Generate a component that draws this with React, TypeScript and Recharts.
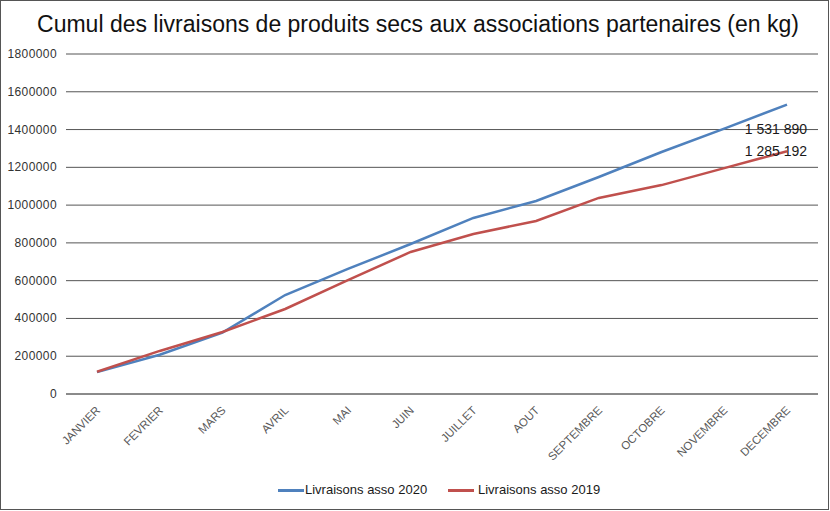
import React from 'react';
import { LineChart, Line, XAxis, YAxis, CartesianGrid, Legend, LabelList } from 'recharts';

const months = ['JANVIER', 'FEVRIER', 'MARS', 'AVRIL', 'MAI', 'JUIN', 'JUILLET', 'AOUT', 'SEPTEMBRE', 'OCTOBRE', 'NOVEMBRE', 'DECEMBRE'];
const asso2020 = [116000, 208000, 325000, 524000, 662000, 794000, 932000, 1022000, 1149000, 1281000, 1405000, 1531890];
const asso2019 = [118000, 228000, 328000, 450000, 603000, 752000, 847000, 916000, 1038000, 1106000, 1196000, 1285192];
const yTicks = [0, 200000, 400000, 600000, 800000, 1000000, 1200000, 1400000, 1600000, 1800000];
const seriesNames = ['Livraisons asso 2020', 'Livraisons asso 2019'];
const colors = ['#4F81BD', '#C0504D'];

const data = months.map((m, i) => ({ month: m, a2020: asso2020[i], a2019: asso2019[i] }));

const fmt = (v: number) => String(Math.round(v)).replace(/\B(?=(\d{3})+(?!\d))/g, ' ');

const YTick = (props: any) => {
  const { y, payload } = props;
  return (
    <text x={57} y={y} dy={4} textAnchor="end" fontSize={12} letterSpacing={0.4} fill="#333" fontFamily="Liberation Sans, Arial, sans-serif">
      {payload.value}
    </text>
  );
};

const XTick = (props: any) => {
  const { x, y, payload } = props;
  return (
    <text x={x + 4} y={y + 9} textAnchor="end" fontSize={11.5} fill="#595959" fontFamily="Liberation Sans, Arial, sans-serif" transform={`rotate(-45 ${x + 4} ${y + 9})`}>
      {payload.value}
    </text>
  );
};

const makeLabel = (dx: number, dy: number) => (props: any) => {
  const { x, y, value, index } = props;
  if (index !== months.length - 1) return null;
  return (
    <text x={x + dx} y={y + dy} textAnchor="middle" dominantBaseline="central" fontSize={14} fill="#1a1a1a" fontFamily="Liberation Sans, Arial, sans-serif">
      {fmt(value)}
    </text>
  );
};

const LegendContent = () => (
  <div style={{ position: 'relative', height: 20, width: 830, fontFamily: 'Liberation Sans, Arial, sans-serif', fontSize: 13, color: '#1a1a1a' }}>
    <div style={{ position: 'absolute', left: 278, top: 9, width: 26, height: 3, background: colors[0] }} />
    <div style={{ position: 'absolute', left: 305, top: 2, whiteSpace: 'nowrap' }}>{seriesNames[0]}</div>
    <div style={{ position: 'absolute', left: 448, top: 9, width: 26, height: 3, background: colors[1] }} />
    <div style={{ position: 'absolute', left: 478, top: 2, whiteSpace: 'nowrap' }}>{seriesNames[1]}</div>
  </div>
);

export default function App() {
  return (
    <div style={{ position: 'absolute', left: 0, top: 0, width: 830, height: 511, background: '#fff' }}>
      <div style={{ position: 'absolute', left: 0, top: 0, width: 829, height: 510, border: '1px solid #555', boxSizing: 'border-box' }} />
      <div style={{ position: 'absolute', left: 0, top: 11, width: 836, textAlign: 'center', fontFamily: 'Liberation Sans, Arial, sans-serif', fontSize: 23, color: '#111', whiteSpace: 'nowrap' }}>
        Cumul des livraisons de produits secs aux associations partenaires (en kg)
      </div>
      <LineChart width={830} height={511} data={data} margin={{ top: 54, right: 12, left: 0, bottom: 11 }}>
        <CartesianGrid vertical={false} stroke="#555" strokeWidth={1} />
        <XAxis dataKey="month" interval={0} tickLine={false} axisLine={{ stroke: '#808080', strokeWidth: 1.5 }} padding={{ left: 31, right: 31 }} height={86} tick={<XTick />} />
        <YAxis domain={[0, 1800000]} ticks={yTicks} width={66} axisLine={false} tickLine={false} tick={<YTick />} interval={0} />
        <Legend verticalAlign="bottom" wrapperStyle={{ left: 0, width: 830 }} content={<LegendContent />} />
        <Line type="linear" dataKey="a2020" name={seriesNames[0]} stroke={colors[0]} strokeWidth={2.5} dot={false} isAnimationActive={false}>
          <LabelList dataKey="a2020" content={makeLabel(-11, 24)} />
        </Line>
        <Line type="linear" dataKey="a2019" name={seriesNames[1]} stroke={colors[1]} strokeWidth={2.5} dot={false} isAnimationActive={false}>
          <LabelList dataKey="a2019" content={makeLabel(-11, 0)} />
        </Line>
      </LineChart>
    </div>
  );
}
